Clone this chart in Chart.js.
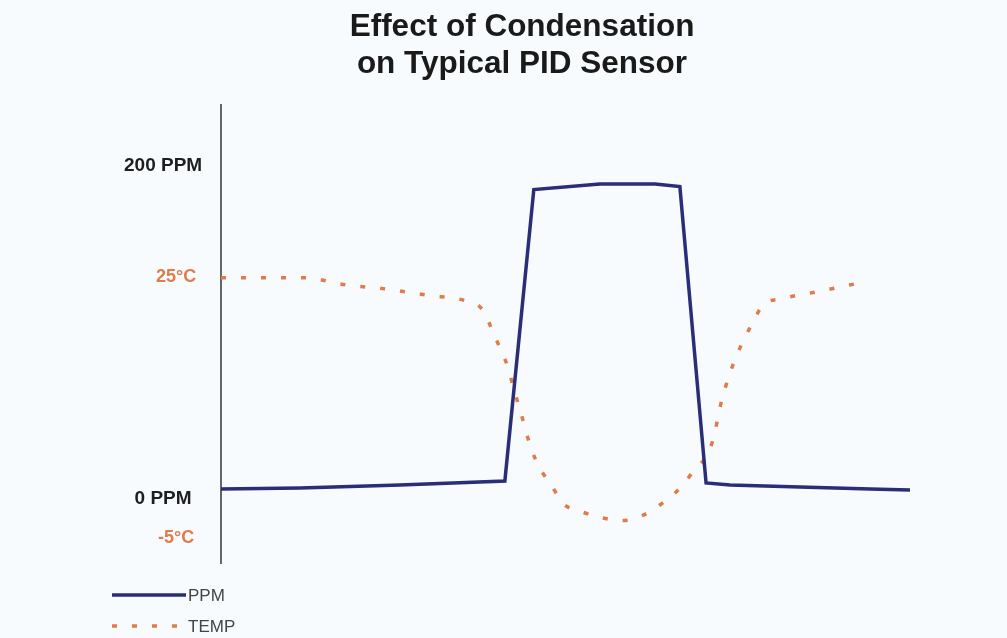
<!DOCTYPE html>
<html>
<head>
<meta charset="utf-8">
<script src="https://cdn.jsdelivr.net/npm/chart.js@4"></script>
<style>
  html, body { margin: 0; padding: 0; background: #f7fbfd; }
  .wrap { width: 1007px; height: 638px; position: relative; }
</style>
</head>
<body>
<div class="wrap"><canvas id="pidChart"></canvas></div>
<script>
// time axis is unitless (0..100)
const ppmX = [0, 11.5, 26, 41.2, 45.4, 55, 63, 66.6, 70.4, 73.9, 84, 94.2, 100];
const ppmY = [6, 6.6, 8.4, 10.8, 185.6, 189, 189, 187.4, 9.6, 8.4, 7.2, 6, 5.4];

const tempX = [0, 12.2, 18, 24.1, 29.9, 35.7, 38, 39.3, 40.5, 41.7, 42.4, 43.4, 45.1, 46.3, 48, 49.6,
  52.4, 55.4, 58.3, 61.2, 63.7, 66.2, 68.1, 71.3, 72.7, 74.6, 77.2, 78.7, 81.4, 87.2, 93.2];
const tempY = [24.9, 24.9, 24.1, 23.6, 22.9, 22.2, 21.2, 19.0, 16.8, 14.5, 12.4, 9.7, 5.1, 3.0, 1.0, -1.0,
  -2.0, -2.7, -3.0, -2.4, -1.2, 0.4, 2.2, 6.0, 10.9, 15.5, 19.8, 21.8, 22.5, 23.4, 24.4];

const ppmTicks = [0, 200];
const tempTicks = [-5, 25];
const seriesNames = ['PPM', 'TEMP'];

const navy = '#2a2d78';
const orange = '#de7c4c';
const fontFamily = '"Liberation Sans", Arial, sans-serif';

// simple two-row legend under the axis
const legendRows = {
  id: 'legendRows',
  afterDraw(chart) {
    const ctx = chart.ctx;
    chart.data.datasets.forEach(function (ds, i) {
      const y = 595 + i * 31;
      ctx.save();
      ctx.strokeStyle = ds.borderColor;
      ctx.lineWidth = ds.borderWidth;
      ctx.setLineDash(ds.borderDash || []);
      ctx.beginPath();
      ctx.moveTo(112, y);
      ctx.lineTo(186, y);
      ctx.stroke();
      ctx.setLineDash([]);
      ctx.fillStyle = '#444';
      ctx.font = '17px ' + fontFamily;
      ctx.textBaseline = 'middle';
      ctx.fillText(ds.label, 188, y + 1);
      ctx.restore();
    });
  }
};

new Chart(document.getElementById('pidChart'), {
  type: 'line',
  data: {
    datasets: [{
      label: seriesNames[0],
      data: ppmX.map((x, i) => ({ x: x, y: ppmY[i] })),
      borderColor: navy,
      borderWidth: 3.5,
      pointRadius: 0,
      tension: 0,
      yAxisID: 'y'
    }, {
      label: seriesNames[1],
      data: tempX.map((x, i) => ({ x: x, y: tempY[i] })),
      borderColor: orange,
      borderWidth: 3.5,
      borderDash: [5, 15],
      pointRadius: 0,
      cubicInterpolationMode: 'monotone',
      yAxisID: 'y2'
    }]
  },
  options: {
    responsive: true,
    maintainAspectRatio: false,
    animation: false,
    layout: { padding: { left: 134, right: 97, top: 0, bottom: 75 } },
    plugins: {
      legend: { display: false },
      tooltip: { enabled: false },
      title: {
        display: true,
        text: ['Effect of Condensation', 'on Typical PID Sensor'],
        color: '#1a1a1a',
        font: { family: fontFamily, size: 31.5, weight: 'bold', lineHeight: 1.2 },
        padding: { top: 8, bottom: 21 }
      }
    },
    scales: {
      x: { type: 'linear', min: 0, max: 100, display: false },
      y: {
        position: 'left',
        weight: 0,
        min: -38.4,
        max: 236.6,
        grid: { display: false, drawTicks: false },
        border: { display: true, color: '#666', width: 2 },
        afterBuildTicks: function (scale) {
          scale.ticks = ppmTicks.map(v => ({ value: v }));
        },
        afterFit: function (scale) { scale.width = 87; },
        ticks: {
          mirror: true,
          padding: -97,
          crossAlign: 'center',
          color: '#1e1e1e',
          font: { family: fontFamily, size: 19, weight: 'bold' },
          callback: v => v + ' PPM'
        }
      },
      y2: {
        position: 'left',
        weight: 1,
        min: -7.87,
        max: 44.8,
        grid: { display: false, drawTicks: false },
        border: { display: false },
        afterBuildTicks: function (scale) {
          scale.ticks = tempTicks.map(v => ({ value: v }));
        },
        afterFit: function (scale) { scale.width = 0; },
        ticks: {
          mirror: true,
          padding: 22,
          crossAlign: 'center',
          color: orange,
          font: { family: fontFamily, size: 18, weight: 'bold' },
          callback: v => v + '°C'
        }
      }
    }
  },
  plugins: [legendRows]
});
</script>
</body>
</html>
